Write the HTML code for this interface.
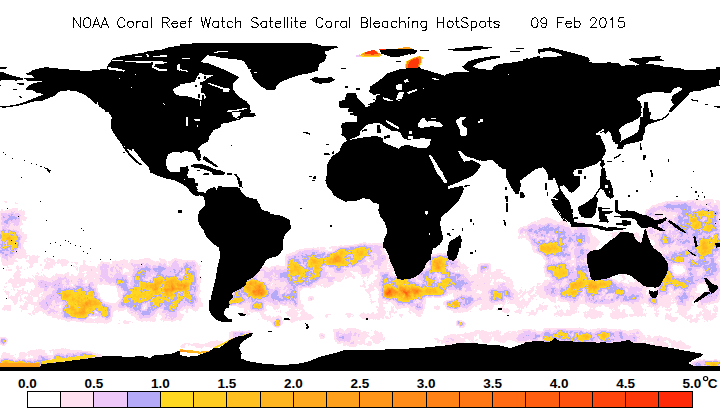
<!DOCTYPE html>
<html><head><meta charset="utf-8"><title>NOAA Coral Reef Watch HotSpots</title>
<style>
html,body{margin:0;padding:0;background:#fff;}
body{width:720px;height:411px;overflow:hidden;font-family:"Liberation Sans",sans-serif;}
svg{display:block}
.t text{font-family:"Liberation Sans",sans-serif;font-size:14px;fill:#000;stroke:#fff;stroke-width:0.45px}
.l text{font-family:"Liberation Sans",sans-serif;font-size:13.5px;font-weight:bold;fill:#000}
</style></head><body>
<svg width="720" height="411" viewBox="0 0 720 411">
<rect width="720" height="411" fill="#fff"/>
<defs><clipPath id="mapclip"><rect x="0" y="43" width="720" height="328"/></clipPath></defs>
<g clip-path="url(#mapclip)">
<defs><filter id="hs" filterUnits="userSpaceOnUse" x="0" y="0" width="720" height="411" color-interpolation-filters="sRGB">
<feGaussianBlur in="SourceGraphic" stdDeviation="2.2" result="b"/>
<feTurbulence type="fractalNoise" baseFrequency="0.09" numOctaves="4" seed="5" result="t"/>
<feColorMatrix in="t" type="matrix" values="1 0 0 0 0 1 0 0 0 0 1 0 0 0 0 0 0 0 0 1" result="n1"/>
<feTurbulence type="fractalNoise" baseFrequency="0.35" numOctaves="2" seed="12" result="t2"/>
<feColorMatrix in="t2" type="matrix" values="1 0 0 0 0 1 0 0 0 0 1 0 0 0 0 0 0 0 0 1" result="n2"/>
<feComposite in="n1" in2="n2" operator="arithmetic" k1="0" k2="0.75" k3="0.25" k4="0" result="n"/>
<feComposite in="b" in2="n" operator="arithmetic" k1="2.7" k2="-0.35" k3="0" k4="0" result="m"/>
<feComponentTransfer in="m">
<feFuncR type="discrete" tableValues="1.000 1.000 0.937 0.706 1.000 1.000 1.000 1.000 1.000 1.000 1.000 1.000 1.000 1.000 1.000 1.000 1.000 1.000 1.000 1.000"/>
<feFuncG type="discrete" tableValues="1.000 0.882 0.784 0.667 0.847 0.800 0.753 0.710 0.667 0.627 0.588 0.549 0.510 0.463 0.416 0.369 0.322 0.267 0.220 0.165"/>
<feFuncB type="discrete" tableValues="1.000 0.941 0.980 0.973 0.133 0.133 0.125 0.125 0.118 0.110 0.102 0.094 0.086 0.078 0.071 0.063 0.055 0.047 0.039 0.031"/>
</feComponentTransfer>
</filter></defs><g filter="url(#hs)"><rect x="0" y="0" width="720" height="411" fill="#000"/><path d="M0.0,200.0 18.0,198.0 28.0,215.0 30.0,250.0 60.0,258.0 110.0,260.0 160.0,256.0 205.0,262.0 212.0,280.0 205.0,310.0 180.0,322.0 120.0,326.0 60.0,322.0 20.0,318.0 0.0,310.0Z" fill="rgb(12,12,12)"/><path d="M236.0,300.0 250.0,286.0 275.0,272.0 300.0,258.0 340.0,247.0 385.0,250.0 398.0,262.0 400.0,280.0 430.0,262.0 445.0,256.0 470.0,266.0 500.0,262.0 515.0,240.0 520.0,228.0 540.0,215.0 580.0,218.0 600.0,238.0 610.0,228.0 640.0,230.0 660.0,212.0 690.0,200.0 720.0,198.0 720.0,322.0 690.0,326.0 640.0,318.0 600.0,322.0 540.0,318.0 480.0,312.0 430.0,318.0 380.0,322.0 330.0,318.0 290.0,325.0 255.0,322.0 238.0,315.0Z" fill="rgb(12,12,12)"/><path d="M0.0,352.0 60.0,348.0 100.0,352.0 110.0,362.0 60.0,368.0 0.0,368.0Z" fill="rgb(16,16,16)"/><path d="M430.0,338.0 470.0,330.0 540.0,328.0 620.0,330.0 680.0,338.0 700.0,350.0 640.0,346.0 560.0,342.0 480.0,344.0 440.0,346.0Z" fill="rgb(16,16,16)"/><path d="M330.0,328.0 380.0,326.0 390.0,345.0 340.0,348.0Z" fill="rgb(16,16,16)"/><path d="M470.0,265.0 500.0,267.5 515.0,280.0 515.0,302.5 472.5,302.5Z" fill="rgb(16,16,16)"/><path d="M37.5,280.0 62.5,275.0 82.5,277.5 100.0,282.5 112.5,295.0 112.5,315.0 95.0,321.2 70.0,320.0 47.5,315.0 37.5,302.5Z" fill="rgb(26,26,26)"/><path d="M87.5,267.5 112.5,262.5 140.0,260.0 180.0,260.0 180.0,320.0 155.0,320.0 130.0,315.0 117.5,305.0 117.5,290.0 100.0,280.0Z" fill="rgb(26,26,26)"/><path d="M0.0,240.0 20.0,240.0 22.5,255.0 10.0,260.0 0.0,260.0Z" fill="rgb(26,26,26)"/><path d="M180.0,262.5 195.0,261.2 198.8,280.0 197.5,305.0 180.0,306.2Z" fill="rgb(26,26,26)"/><path d="M255.0,267.5 285.0,265.0 287.5,290.0 285.0,305.0 255.0,305.0 245.0,300.0Z" fill="rgb(26,26,26)"/><path d="M285.0,255.0 305.0,248.8 335.0,246.2 360.0,245.0 360.0,270.0 330.0,275.0 310.0,287.5 287.5,287.5Z" fill="rgb(26,26,26)"/><path d="M335.0,332.5 360.0,331.2 360.0,342.8 335.0,342.8Z" fill="rgb(26,26,26)"/><path d="M360.0,242.5 382.5,242.5 386.2,255.0 385.0,272.5 360.0,273.8Z" fill="rgb(26,26,26)"/><path d="M380.0,270.0 410.0,277.5 430.0,255.0 450.0,252.5 465.0,265.0 472.5,290.0 470.0,310.0 435.0,311.2 397.5,305.0 380.0,297.5Z" fill="rgb(26,26,26)"/><path d="M515.0,331.2 540.0,331.2 540.0,340.0 515.0,340.0Z" fill="rgb(26,26,26)"/><path d="M530.0,240.0 540.0,240.0 540.0,250.0 530.0,250.0Z" fill="rgb(26,26,26)"/><path d="M540.0,240.0 585.0,240.0 590.0,265.0 615.0,282.5 645.0,285.0 645.0,302.5 610.0,305.0 565.0,302.5 540.0,290.0Z" fill="rgb(26,26,26)"/><path d="M660.0,240.0 720.0,240.0 720.0,305.0 680.0,305.5 660.0,297.5Z" fill="rgb(26,26,26)"/><path d="M540.0,328.8 640.0,328.8 640.0,340.0 540.0,340.0Z" fill="rgb(26,26,26)"/><path d="M645.0,210.0 665.0,201.2 720.0,200.0 720.0,282.8 675.0,282.8 670.0,262.5 660.0,245.0 647.5,230.0Z" fill="rgb(26,26,26)"/><path d="M540.0,225.0 590.0,225.0 591.2,255.0 587.5,282.8 540.0,282.8Z" fill="rgb(26,26,26)"/><path d="M518.0,228.0 540.0,222.0 570.0,228.0 578.0,245.0 565.0,258.0 535.0,258.0 518.0,248.0Z" fill="rgb(26,26,26)"/><path d="M0.0,210.0 20.0,210.0 22.0,258.0 0.0,258.0Z" fill="rgb(26,26,26)"/><path d="M520.0,330.0 640.0,330.0 640.0,343.0 520.0,343.0Z" fill="rgb(26,26,26)"/><path d="M180.0,343.7 205.0,343.0 221.7,338.7 230.0,337.0 232.0,339.7 213.3,347.7 180.0,348.7Z" fill="rgb(26,26,26)"/><path d="M662.5,242.5 720.0,242.5 720.0,300.0 682.5,301.2 663.8,293.8Z" fill="rgb(30,30,30)"/><path d="M650.0,212.5 667.5,205.0 720.0,203.8 720.0,280.0 680.0,280.0 675.0,262.5 665.0,245.0 652.5,230.0Z" fill="rgb(30,30,30)"/><path d="M55.0,287.5 82.5,282.5 102.5,290.0 107.5,312.5 90.0,318.8 65.0,317.5 52.5,307.5Z" fill="rgb(35,35,35)"/><path d="M117.5,275.0 140.0,267.5 180.0,267.5 180.0,312.5 150.0,315.0 125.0,307.5 117.5,295.0Z" fill="rgb(35,35,35)"/><path d="M180.0,265.0 193.8,265.0 195.5,302.5 180.0,302.5Z" fill="rgb(35,35,35)"/><path d="M286.2,257.5 305.0,251.2 335.0,248.8 360.0,247.0 360.0,266.2 330.0,272.5 305.0,283.8 287.5,282.5Z" fill="rgb(35,35,35)"/><path d="M383.8,275.0 410.0,280.0 430.0,260.0 447.5,257.5 460.0,267.5 465.0,290.0 460.0,305.0 422.5,306.2 390.0,300.0Z" fill="rgb(35,35,35)"/><path d="M545.0,245.0 580.0,245.0 587.5,270.0 612.5,285.0 637.5,287.5 637.5,300.0 610.0,301.2 565.0,298.8 545.0,285.0Z" fill="rgb(35,35,35)"/><path d="M670.0,210.0 720.0,207.5 720.0,262.5 690.0,262.5 680.0,242.5Z" fill="rgb(35,35,35)"/><path d="M540.0,230.0 585.0,230.0 586.2,255.0 583.8,280.0 540.0,280.0Z" fill="rgb(35,35,35)"/><path d="M524.0,232.0 545.0,228.0 568.0,234.0 570.0,250.0 550.0,255.0 528.0,252.0Z" fill="rgb(35,35,35)"/><path d="M0.0,220.0 17.0,220.0 18.0,255.0 0.0,255.0Z" fill="rgb(35,35,35)"/><path d="M300.0,290.0 360.0,288.0 372.0,310.0 310.0,314.0Z" fill="rgb(0,0,0)"/><path d="M425.0,290.0 455.0,295.0 450.0,315.0 425.0,315.0Z" fill="rgb(0,0,0)"/><path d="M95.0,286.2 117.5,285.0 120.0,301.2 102.5,302.5Z" fill="rgb(0,0,0)"/><path d="M132.5,289.2 150.0,288.8 150.0,293.5 132.5,293.5Z" fill="rgb(0,0,0)"/><path d="M670.6,265.0 683.0,264.1 684.6,275.7 671.4,277.4Z" fill="rgb(0,0,0)"/><path d="M696.2,283.2 707.8,282.4 707.8,293.9 696.2,293.9Z" fill="rgb(0,0,0)"/><path d="M481.7,240.0 530.0,240.0 543.3,256.7 546.7,281.7 515.0,283.3 506.7,270.0 490.0,260.0 465.0,258.3 460.0,250.0Z" fill="rgb(0,0,0)"/><path d="M275.0,288.8 297.5,288.8 297.5,305.0 275.0,305.0Z" fill="rgb(42,42,42)"/><path d="M675.0,275.0 690.0,275.0 690.0,290.0 675.0,290.0Z" fill="rgb(42,42,42)"/><path d="M660.0,238.8 670.0,238.8 670.0,245.0 660.0,245.0Z" fill="rgb(42,42,42)"/><path d="M675.0,220.0 682.5,220.0 682.5,225.0 675.0,225.0Z" fill="rgb(42,42,42)"/><path d="M480.0,265.0 490.0,265.0 490.0,272.5 480.0,272.5Z" fill="rgb(48,48,48)"/><path d="M490.0,290.0 510.0,290.0 510.0,301.2 490.0,301.2Z" fill="rgb(48,48,48)"/><path d="M550.0,255.0 567.5,255.0 568.0,277.5 550.0,277.5Z" fill="rgb(48,48,48)"/><path d="M540.0,245.0 555.0,245.0 555.0,252.5 540.0,252.5Z" fill="rgb(48,48,48)"/><path d="M685.0,250.0 700.0,250.0 700.5,265.0 685.0,265.0Z" fill="rgb(48,48,48)"/><path d="M700.0,265.0 715.0,265.0 715.0,272.5 700.0,272.5Z" fill="rgb(48,48,48)"/><path d="M690.0,247.5 700.0,247.5 700.0,260.0 690.0,260.0Z" fill="rgb(48,48,48)"/><path d="M675.0,252.5 685.0,252.5 685.0,262.5 675.0,262.5Z" fill="rgb(48,48,48)"/><path d="M540.0,236.2 547.5,236.2 547.5,245.0 540.0,245.0Z" fill="rgb(48,48,48)"/><path d="M545.0,246.2 555.0,246.2 555.0,252.5 545.0,252.5Z" fill="rgb(48,48,48)"/><path d="M550.0,230.0 557.5,230.0 557.5,235.0 550.0,235.0Z" fill="rgb(48,48,48)"/><path d="M555.0,265.0 565.0,265.0 565.0,271.2 555.0,271.2Z" fill="rgb(48,48,48)"/><path d="M577.5,272.5 585.0,272.5 585.0,278.8 577.5,278.8Z" fill="rgb(48,48,48)"/><path d="M562.5,273.8 570.0,273.8 570.0,277.5 562.5,277.5Z" fill="rgb(48,48,48)"/><path d="M60.0,292.5 75.0,288.8 90.0,290.0 100.0,297.5 100.0,312.5 110.0,311.2 110.0,318.8 100.0,318.8 87.5,317.5 70.0,316.2 61.2,310.0Z" fill="rgb(57,57,57)"/><path d="M122.5,293.8 135.0,287.5 142.5,280.0 160.0,277.5 180.0,278.8 180.0,300.0 165.0,302.5 150.0,302.5 135.0,302.5 123.8,300.0Z" fill="rgb(57,57,57)"/><path d="M0.0,242.0 10.0,241.2 11.2,251.2 0.0,252.5Z" fill="rgb(57,57,57)"/><path d="M180.0,267.5 191.2,267.0 192.5,300.0 180.0,300.0Z" fill="rgb(57,57,57)"/><path d="M247.5,280.0 255.0,277.5 265.0,281.2 266.2,296.2 255.0,298.8 245.0,301.2 230.0,305.0 226.2,302.5 237.5,290.0Z" fill="rgb(57,57,57)"/><path d="M287.5,261.2 297.5,257.5 312.5,256.2 320.0,258.8 320.0,277.5 307.5,286.2 292.5,285.0 286.2,277.5Z" fill="rgb(57,57,57)"/><path d="M320.0,253.8 340.0,251.2 355.0,248.8 360.0,248.8 360.0,258.8 352.5,265.0 330.0,265.0 320.5,262.5Z" fill="rgb(57,57,57)"/><path d="M327.5,276.2 332.5,276.2 332.5,281.2 327.5,281.2Z" fill="rgb(57,57,57)"/><path d="M285.0,296.2 291.2,296.2 291.2,300.0 285.0,300.0Z" fill="rgb(57,57,57)"/><path d="M308.8,297.5 313.8,297.5 313.8,301.2 308.8,301.2Z" fill="rgb(57,57,57)"/><path d="M318.8,334.5 325.0,334.5 325.0,337.0 318.8,337.0Z" fill="rgb(57,57,57)"/><path d="M230.0,333.0 251.2,331.2 251.2,334.5 230.0,338.0Z" fill="rgb(57,57,57)"/><path d="M360.0,247.5 372.5,247.5 373.0,258.8 360.0,259.5Z" fill="rgb(57,57,57)"/><path d="M385.0,277.5 410.0,281.2 411.2,300.0 397.5,300.0 385.0,296.2Z" fill="rgb(57,57,57)"/><path d="M422.5,280.0 445.0,280.0 445.5,295.5 422.5,295.5Z" fill="rgb(57,57,57)"/><path d="M430.0,257.5 447.5,257.5 448.0,273.0 430.0,273.0Z" fill="rgb(57,57,57)"/><path d="M450.0,272.5 457.5,272.5 457.5,276.5 450.0,276.5Z" fill="rgb(57,57,57)"/><path d="M460.0,296.2 472.5,296.2 472.5,300.0 460.0,300.0Z" fill="rgb(57,57,57)"/><path d="M477.5,296.2 482.5,296.2 482.5,300.0 477.5,300.0Z" fill="rgb(57,57,57)"/><path d="M500.0,283.8 506.2,283.8 506.2,287.5 500.0,287.5Z" fill="rgb(57,57,57)"/><path d="M495.0,297.5 505.0,297.5 505.0,301.2 495.0,301.2Z" fill="rgb(57,57,57)"/><path d="M417.5,303.8 422.5,303.8 422.5,308.8 417.5,308.8Z" fill="rgb(57,57,57)"/><path d="M435.0,306.2 440.0,306.2 440.0,308.8 435.0,308.8Z" fill="rgb(57,57,57)"/><path d="M532.5,335.0 540.0,335.0 540.0,338.8 532.5,338.8Z" fill="rgb(57,57,57)"/><path d="M567.5,280.0 590.0,280.0 610.0,281.2 610.5,295.5 590.0,297.0 567.5,295.5Z" fill="rgb(57,57,57)"/><path d="M615.0,288.8 627.5,288.8 627.5,295.0 615.0,295.0Z" fill="rgb(57,57,57)"/><path d="M627.5,296.2 637.5,296.2 637.5,300.0 627.5,300.0Z" fill="rgb(57,57,57)"/><path d="M662.5,270.0 672.5,270.0 673.0,284.0 662.5,284.0Z" fill="rgb(57,57,57)"/><path d="M700.0,240.0 720.0,240.0 720.0,255.0 700.0,255.0Z" fill="rgb(57,57,57)"/><path d="M660.0,287.5 670.0,287.5 670.0,293.8 660.0,293.8Z" fill="rgb(57,57,57)"/><path d="M555.0,332.5 622.5,332.5 622.5,338.8 555.0,338.8Z" fill="rgb(57,57,57)"/><path d="M690.0,208.8 712.5,208.0 715.0,217.5 712.5,230.0 700.0,231.2 690.0,227.5 686.2,217.5Z" fill="rgb(57,57,57)"/><path d="M710.0,235.0 720.0,235.0 720.0,247.5 710.0,247.5Z" fill="rgb(57,57,57)"/><path d="M533.0,237.0 560.0,237.0 560.0,251.0 533.0,251.0Z" fill="rgb(57,57,57)"/><path d="M0.0,230.0 15.0,230.0 15.0,252.0 0.0,252.0Z" fill="rgb(57,57,57)"/><path d="M40.0,358.0 95.0,353.0 96.0,358.0 42.0,364.0Z" fill="rgb(57,57,57)"/><path d="M535.0,334.0 620.0,334.0 620.0,341.0 535.0,341.0Z" fill="rgb(57,57,57)"/><path d="M0.0,338.0 6.0,338.0 6.0,344.0 0.0,344.0Z" fill="rgb(57,57,57)"/><path d="M67.5,295.5 85.0,293.8 97.0,298.8 96.2,312.5 82.5,315.0 68.8,312.5Z" fill="rgb(74,74,74)"/><path d="M143.8,281.2 162.5,279.5 180.0,281.2 180.0,297.0 162.5,298.0 147.5,295.0Z" fill="rgb(74,74,74)"/><path d="M180.0,272.5 188.8,272.0 189.5,297.5 180.0,297.5Z" fill="rgb(74,74,74)"/><path d="M325.0,254.5 345.0,253.0 351.2,257.5 347.5,263.0 327.5,263.0Z" fill="rgb(74,74,74)"/><path d="M252.5,302.5 262.5,302.5 262.5,308.8 252.5,308.8Z" fill="rgb(74,74,74)"/><path d="M425.0,282.5 442.5,282.5 442.5,293.8 425.0,293.8Z" fill="rgb(74,74,74)"/><path d="M432.0,260.0 445.0,260.0 445.0,271.2 432.5,271.2Z" fill="rgb(74,74,74)"/><path d="M572.5,283.8 597.5,283.8 598.0,292.5 572.5,292.5Z" fill="rgb(74,74,74)"/><path d="M663.8,272.5 671.2,272.5 671.2,282.5 663.8,282.5Z" fill="rgb(74,74,74)"/><path d="M650.0,297.5 657.5,297.5 657.5,305.0 650.0,305.0Z" fill="rgb(74,74,74)"/><path d="M712.5,236.2 720.0,236.2 720.0,246.2 712.5,246.2Z" fill="rgb(74,74,74)"/><path d="M0.0,234.0 10.0,234.0 10.0,248.0 0.0,248.0Z" fill="rgb(74,74,74)"/><path d="M150.0,283.8 180.0,283.8 180.0,293.8 152.5,293.0Z" fill="rgb(97,97,97)"/><path d="M180.0,282.5 187.0,282.5 187.5,296.2 180.0,296.2Z" fill="rgb(97,97,97)"/><path d="M247.5,282.0 263.8,282.5 265.0,295.5 253.8,297.5 247.5,293.8Z" fill="rgb(97,97,97)"/><path d="M0.0,362.0 40.0,361.0 42.0,367.0 0.0,367.0Z" fill="rgb(97,97,97)"/><path d="M688.0,362.0 720.0,362.0 720.0,366.0 700.0,366.0Z" fill="rgb(97,97,97)"/><path d="M248.8,283.0 255.0,283.0 255.0,290.0 249.5,290.0Z" fill="rgb(128,128,128)"/><path d="M275.0,322.5 278.8,322.5 278.8,325.0 275.0,325.0Z" fill="rgb(128,128,128)"/><path d="M385.0,287.0 420.0,288.8 420.0,298.8 386.2,296.2Z" fill="rgb(128,128,128)"/><path d="M445.0,302.5 457.5,302.5 457.5,306.5 445.0,306.5Z" fill="rgb(128,128,128)"/><path d="M385.0,288.8 393.8,288.8 393.8,294.5 385.0,294.5Z" fill="rgb(178,178,178)"/><path d="M402.0,290.8 410.5,290.8 410.5,297.0 402.0,297.0Z" fill="rgb(178,178,178)"/><path d="M458.8,323.2 463.0,323.2 463.0,326.5 458.8,326.5Z" fill="rgb(178,178,178)"/><path d="M458.0,322.0 463.0,322.0 463.0,326.0 458.0,326.0Z" fill="rgb(178,178,178)"/><path d="M276.0,320.0 279.0,320.0 279.0,324.0 276.0,324.0Z" fill="rgb(178,178,178)"/></g><g shape-rendering="crispEdges"><path d="M355.6,55.5 360.0,54.2 362.5,56.5 356.2,56.5Z" fill="#EFC8FA"/><path d="M358.8,55.5 365.0,52.1 373.8,49.6 379.4,53.4 382.8,56.1 375.0,57.2 362.5,56.8Z" fill="#FFD822"/><path d="M361.2,54.6 365.6,51.9 373.8,49.6 379.4,53.4 381.2,55.2 375.0,56.2 365.0,55.9Z" fill="#FF961A"/><path d="M364.4,53.0 368.8,50.9 373.8,49.8 377.8,52.8 378.1,54.2 372.5,54.6 366.2,54.2Z" fill="#FF380A"/><path d="M379.4,49.0 391.2,49.0 391.2,50.2 379.4,50.2Z" fill="#FF2A08"/><path d="M398.1,47.8 408.8,47.2 411.9,48.5 411.9,49.2 398.1,49.2Z" fill="#FFA01C"/><path d="M404.8,68.0 406.0,61.5 412.5,58.1 420.0,55.6 422.8,57.5 421.5,62.8 419.0,68.0Z" fill="#FFD822"/><path d="M405.6,68.0 406.9,61.8 412.5,58.8 419.4,56.2 421.5,58.0 420.6,62.8 418.5,68.0Z" fill="#FF8216"/><path d="M408.1,68.0 408.8,62.1 412.5,59.6 417.5,58.0 419.0,60.2 418.5,64.6 417.5,68.0Z" fill="#FF380A"/><path d="M180.0,349.3 190.0,350.0 200.0,351.7 208.3,350.5 208.7,352.0 200.0,353.7 190.0,352.7 180.0,352.0Z" fill="#FFB520"/><path d="M180.0,350.0 188.3,350.7 188.3,352.0 180.0,351.7Z" fill="#FF961A"/><path d="M213.3,347.3 223.3,343.0 233.3,338.0 246.7,333.7 253.0,332.7 253.0,334.0 236.7,337.7 225.0,344.3 215.3,348.7Z" fill="#FFD822"/><path d="M0.0,362.5 15.0,363.0 30.0,363.5 40.0,363.0 40.5,366.5 0.0,366.8Z" fill="#FFA01C"/><path d="M41.2,361.0 62.5,358.0 82.5,355.5 95.0,354.5 95.0,357.0 82.5,359.0 62.5,361.5 42.0,364.0Z" fill="#FFD822"/></g>
<g shape-rendering="crispEdges">
<path d="M0.0,67.2 6.5,67.2 7.0,68.2 6.0,68.8 0.0,69.0ZM0.0,71.8 4.0,72.6 10.0,74.8 16.0,76.6 21.5,78.0 23.8,79.0 22.5,79.7 18.0,79.6 16.5,80.8 12.0,80.0 8.0,79.5 4.0,79.8 0.0,80.8ZM16.5,82.8 24.0,82.8 24.5,84.5 19.0,84.5 16.5,83.6ZM13.0,89.0 17.0,89.0 17.0,89.8 13.0,89.8ZM19.0,96.0 21.0,96.2 22.2,98.0 20.0,97.6ZM0.0,85.0 0.8,85.0 0.8,85.8 0.0,85.8ZM24.0,77.8 34.5,77.8 42.0,78.0 42.0,81.4 26.2,81.4 27.8,80.0 24.5,79.2ZM26.2,73.0 30.0,72.2 33.0,70.0 40.0,68.2 46.0,67.2 49.0,67.2 50.0,68.0 56.0,68.2 66.0,69.5 72.0,70.0 72.0,89.0 65.0,90.0 59.0,91.8 56.0,94.5 50.0,97.5 44.0,100.0 42.0,101.0 31.0,101.0 33.0,100.0 40.0,96.5 44.0,94.2 36.0,92.5 35.0,91.0 30.0,90.0 25.5,89.7 28.0,86.5 33.0,83.2 38.0,82.4 42.0,82.4 42.0,78.0 34.5,77.8 32.2,75.6 27.0,74.6ZM60.0,69.0 66.7,69.3 76.7,70.2 86.7,71.2 96.7,69.8 106.7,69.0 107.5,65.7 110.0,62.3 113.3,58.2 123.3,55.7 133.3,54.3 145.0,52.3 148.3,50.7 160.0,50.3 168.3,47.3 180.0,45.7 180.0,112.0 105.8,112.0 103.3,109.0 99.2,106.5 97.5,102.3 95.8,104.8 93.3,101.5 85.0,94.8 76.7,91.5 68.3,90.3 60.0,91.5ZM180.0,43.8 191.7,43.8 192.5,43.0 236.7,43.0 236.7,45.3 243.3,60.7 235.0,59.0 223.3,58.2 213.3,56.0 206.7,55.3 200.8,62.3 208.3,63.2 218.3,67.3 226.7,70.7 235.0,74.8 239.2,77.3 236.7,79.8 233.3,83.2 232.5,88.2 235.0,92.3 240.0,97.3 246.7,101.5 250.0,105.7 250.8,112.0 180.0,112.0ZM233.3,43.0 300.0,43.0 300.0,74.8 290.0,78.2 281.7,81.5 276.7,85.7 275.0,89.8 266.7,89.8 260.0,85.7 253.3,79.0 251.7,74.0 246.7,65.7 243.3,60.7 240.0,60.3ZM300.0,43.0 311.7,43.0 312.5,44.0 317.5,44.2 322.0,46.0 335.8,46.1 338.7,47.2 335.0,48.3 330.8,49.7 328.0,50.8 325.0,51.3 324.7,53.7 326.7,55.7 325.0,60.7 319.2,64.0 317.5,70.7 310.0,73.2 300.0,74.8ZM310.0,79.3 315.0,77.3 323.3,77.8 331.7,77.3 335.0,79.8 330.0,82.7 320.0,83.7 314.2,82.3ZM340.8,67.8 345.8,67.8 345.8,68.7 340.8,68.7ZM379.2,50.7 386.7,49.3 400.0,49.0 410.0,48.7 417.5,50.7 415.0,53.2 406.7,54.8 400.0,56.5 390.0,56.5 383.3,54.0ZM420.0,112.0 363.3,112.0 366.7,107.3 373.3,99.0 383.3,101.5 390.0,101.5 390.0,99.0 383.3,97.3 380.0,94.0 373.3,94.8 369.2,91.5 370.0,86.5 376.7,82.3 383.3,77.3 386.7,73.7 400.0,69.0 420.0,67.3ZM345.8,94.0 350.0,92.7 355.8,94.0 355.0,99.0 358.3,102.3 361.7,106.5 364.2,110.7 363.3,112.0 348.3,112.0 348.3,109.8 350.0,104.0 346.7,99.0ZM339.2,102.3 345.0,101.2 348.3,104.0 347.5,108.2 340.0,108.2ZM345.0,85.7 348.3,85.7 348.3,87.7 345.0,87.7ZM355.8,88.2 360.0,88.2 360.0,90.3 355.8,90.3ZM420.0,68.2 428.3,70.7 436.7,73.2 445.0,75.7 446.7,74.0 456.7,71.5 470.0,71.5 480.0,70.7 491.7,71.5 493.3,67.3 498.3,64.0 506.7,63.2 513.3,62.3 523.3,60.7 533.3,57.3 540.0,55.7 540.0,112.0 420.0,112.0ZM462.5,66.5 468.3,61.5 476.7,58.7 490.0,56.5 500.0,55.7 499.7,57.7 486.7,60.3 477.5,63.2 473.0,66.5 478.3,68.7 493.3,70.3 491.7,72.0 470.0,72.0 464.2,69.3ZM447.5,49.3 461.7,47.7 478.3,46.0 493.3,47.7 483.3,49.3 470.0,50.7 453.3,50.7ZM420.0,49.8 428.3,49.8 428.3,50.7 420.0,50.7ZM510.0,50.7 520.0,50.7 520.0,52.0 510.0,52.0ZM515.8,47.7 524.2,47.7 524.2,48.5 515.8,48.5ZM522.5,59.0 528.3,58.2 529.2,60.2 523.3,61.0ZM537.5,49.0 540.0,48.7 540.0,54.0 538.0,53.2ZM540.0,49.0 550.0,47.3 556.7,49.0 576.7,54.0 588.3,57.3 590.0,60.7 588.3,62.3 606.7,63.2 618.3,63.2 621.7,66.5 626.7,64.8 636.7,65.7 640.0,63.7 650.0,64.3 660.0,64.8 660.0,91.5 653.3,92.3 643.3,94.0 635.8,99.0 640.0,101.5 641.7,106.5 640.8,112.0 540.0,112.0ZM629.2,58.7 640.0,57.7 655.0,56.5 660.0,55.7 660.0,60.3 650.0,60.7 640.0,61.5 638.3,64.0 630.8,60.7ZM600.0,64.0 608.3,62.3 618.3,63.2 620.8,67.0 638.3,65.3 650.0,64.8 663.3,66.5 680.0,68.2 686.7,70.3 700.0,69.8 715.0,69.0 720.0,68.7 720.0,79.8 718.7,81.0 718.7,84.8 720.0,85.7 710.0,87.7 700.0,90.7 693.3,91.5 690.0,92.3 686.7,97.3 681.7,102.3 676.7,107.3 671.7,111.5 668.7,112.0 670.0,108.7 673.7,104.3 671.2,100.7 672.0,96.0 678.3,92.0 683.3,89.0 679.2,87.0 673.3,88.7 670.8,92.7 656.7,92.3 645.0,92.7 640.0,95.7 635.0,99.0 640.0,101.5 641.7,106.5 640.8,112.0 600.0,112.0ZM629.2,59.0 641.7,57.7 655.0,58.2 664.2,59.8 663.3,61.0 650.0,60.7 648.3,62.7 640.0,65.3 638.3,62.0 630.0,60.7ZM655.0,56.0 660.8,56.0 660.8,57.3 655.0,57.3ZM715.8,67.3 720.0,67.0 720.0,69.0 715.8,69.0ZM644.7,101.5 647.5,102.3 649.2,112.0 643.0,112.0 643.7,106.5ZM690.8,99.0 697.5,100.3 697.5,101.7 690.8,100.3ZM705.0,104.0 708.3,104.3 708.3,105.3 705.0,105.0ZM714.2,106.0 720.0,106.5 720.0,107.7 714.2,107.3ZM180.0,112.0 180.0,180.0 173.3,180.0 166.7,178.7 156.7,175.3 150.0,171.2 148.3,166.2 143.3,162.0 138.3,155.3 133.3,149.5 122.0,145.3 123.3,147.8 126.7,152.0 129.2,155.7 133.3,160.3 140.0,165.0 141.7,164.5 135.8,159.5 131.7,155.3 128.3,151.2 125.8,146.2 121.7,144.5 117.5,138.7 113.3,132.8 110.8,127.0 111.7,117.0 108.3,112.0ZM122.0,145.0 126.7,146.2 133.3,149.5 131.7,151.2ZM122.5,151.7 125.0,151.7 125.0,152.8 122.5,152.8ZM150.0,112.0 231.7,112.0 233.3,117.0 240.0,119.5 233.3,121.2 228.3,122.8 221.7,123.7 220.0,127.8 213.3,130.3 209.2,137.0 208.3,141.2 201.7,144.5 198.3,147.8 197.5,152.0 200.0,157.0 200.8,160.3 198.3,161.2 195.8,157.0 194.2,152.8 190.0,152.0 185.8,150.7 181.7,152.8 175.0,151.7 169.2,153.7 166.7,157.8 165.8,163.7 167.5,169.5 171.7,172.3 178.3,171.2 180.8,167.8 185.8,167.0 187.5,169.5 185.8,174.5 184.2,180.0 173.3,180.0 166.7,178.7 156.7,175.3 150.0,172.3ZM240.8,112.0 255.0,112.8 255.8,116.2 250.0,117.3 243.3,117.0 240.0,119.5 236.7,117.0 240.0,115.3ZM190.8,165.0 200.0,164.0 206.7,166.2 216.7,170.3 223.3,172.8 216.7,172.3 206.7,169.5 198.3,167.8 191.7,167.0ZM211.7,172.3 220.0,171.2 224.2,173.3 223.3,175.3 216.7,175.0 212.5,174.0ZM202.5,157.0 207.5,161.2 216.7,166.2 218.3,167.8 208.3,162.8 203.3,159.5ZM226.7,173.3 231.7,173.3 231.7,174.5 226.7,174.5ZM234.2,174.0 236.7,174.0 236.7,175.3 234.2,175.3ZM236.7,176.2 238.3,176.2 238.7,180.0 237.0,180.0ZM203.3,173.7 208.3,173.7 208.3,175.0 203.3,175.0ZM196.7,170.3 200.0,170.3 200.0,171.2 196.7,171.2ZM230.8,145.0 232.0,145.0 232.0,146.0 230.8,146.0ZM341.7,122.8 350.0,122.0 356.7,122.3 360.8,123.7 363.3,128.7 360.8,134.5 356.7,137.0 351.7,138.7 347.5,140.7 344.2,137.0 341.3,134.5 342.5,130.3 341.3,127.0ZM348.3,140.3 351.7,139.5 356.7,138.7 363.3,137.0 371.7,135.7 381.7,135.3 383.3,139.5 383.0,143.7 390.0,144.0 390.0,180.0 325.8,180.0 326.7,175.3 327.5,170.3 326.7,165.3 329.2,160.3 333.3,155.3 339.2,152.0 340.8,147.0 343.3,142.8ZM303.3,132.3 306.7,132.0 310.8,133.7 310.0,134.7 305.8,133.3 303.3,133.3ZM325.8,144.2 329.2,144.2 329.2,145.3 325.8,145.3ZM324.2,152.8 330.0,153.7 330.0,155.3 324.2,155.0ZM331.7,151.7 334.2,151.2 334.2,153.7 332.0,154.0ZM309.2,176.2 313.3,176.7 315.8,176.2 315.8,178.7 313.7,179.5 313.3,177.5 309.2,177.0ZM360.0,100.0 480.0,100.0 480.0,168.0 360.0,168.0ZM480.0,112.0 600.0,112.0 600.0,160.3 596.7,162.0 588.3,166.2 581.7,169.5 575.8,168.7 572.5,172.8 575.0,177.0 578.3,180.0 550.0,180.0 548.3,176.2 545.8,170.3 543.3,167.0 535.0,169.5 525.0,177.0 521.7,180.0 506.7,180.0 505.8,169.5 501.7,168.7 496.7,163.7 492.5,160.3 480.0,160.3ZM540.0,112.0 641.7,112.0 640.0,117.0 633.3,121.2 625.0,124.5 620.8,127.8 617.0,131.2 618.7,137.0 619.7,141.7 618.0,143.0 613.3,142.3 611.7,137.0 610.8,132.8 608.3,131.2 605.3,133.7 603.7,131.5 597.5,134.5 600.3,135.7 602.0,140.3 604.5,145.3 606.0,150.3 604.3,155.3 601.0,160.3 596.7,163.7 590.0,166.2 583.3,167.8 577.5,168.7 573.3,171.2 572.5,174.5 575.0,177.8 574.2,180.0 550.8,180.0 547.5,173.7 544.2,167.8 540.0,166.2ZM600.8,159.5 604.2,160.3 604.7,164.5 602.5,167.8 600.3,165.3ZM600.8,168.7 605.0,167.8 605.8,172.8 606.7,176.2 605.0,180.0 600.0,180.0 601.3,175.3ZM577.5,170.3 581.7,170.3 581.7,173.7 577.5,173.7ZM583.7,176.2 585.8,176.2 585.8,178.7 583.7,178.7ZM642.5,112.8 650.0,112.8 648.3,117.8 655.0,120.0 662.5,118.3 668.3,113.3 669.7,114.0 663.3,119.5 655.0,122.0 648.3,124.5 645.0,127.0 645.3,132.0 643.0,136.2 643.0,140.3 638.3,141.7 633.3,142.8 628.3,144.0 624.7,145.0 622.5,148.7 620.8,149.5 619.2,145.3 618.3,142.8 623.3,141.2 628.3,139.5 633.3,137.8 638.0,137.0 640.0,132.0 640.8,125.3 642.5,120.3ZM613.3,157.8 616.7,156.2 620.8,153.3 621.3,154.5 617.5,157.3 614.2,158.7ZM606.7,160.8 611.7,160.8 611.7,161.7 606.7,161.7ZM621.7,160.8 624.2,160.8 624.2,161.7 621.7,161.7ZM640.0,142.8 641.3,142.8 641.7,150.3 640.5,150.3ZM642.5,155.3 645.8,155.0 645.3,160.3 643.0,160.0ZM667.5,159.2 668.8,159.2 668.8,162.0 667.5,162.0ZM650.0,169.5 652.0,169.5 653.0,177.0 651.3,177.0ZM692.5,170.7 694.2,170.7 694.2,172.0 692.5,172.0ZM174.2,180.0 195.0,180.0 194.2,185.0 195.3,188.7 198.7,191.7 203.3,192.0 207.5,194.2 203.3,196.7 200.0,195.3 195.8,196.2 190.8,193.0 188.3,188.7 183.3,184.5ZM205.0,193.3 208.3,189.2 215.0,186.7 216.7,190.0 218.3,185.8 228.3,187.5 236.7,186.7 240.0,188.3 241.7,192.5 246.7,196.7 255.0,199.2 260.0,205.0 261.7,210.0 270.0,212.0 270.0,248.0 220.0,248.0 216.7,245.8 210.8,241.7 205.8,235.8 203.3,230.0 200.0,225.8 197.5,220.0 198.3,215.0 200.0,210.0 205.0,205.0 204.2,196.7ZM195.0,182.5 198.3,182.5 198.3,185.8 195.0,185.8ZM237.5,180.8 241.7,181.3 242.5,187.5 239.2,187.0ZM177.5,209.7 181.7,209.7 181.7,213.3 177.5,213.3ZM240.0,192.5 246.7,197.5 256.7,199.2 260.8,209.2 271.7,214.2 281.7,215.8 290.0,220.0 290.8,228.3 285.0,235.0 282.5,241.7 281.7,248.0 240.0,248.0ZM360.0,180.0 360.0,200.3 353.3,200.8 345.0,201.7 338.3,198.3 333.3,193.3 327.5,186.7 325.0,180.0ZM300.3,207.5 301.7,207.5 301.7,208.8 300.3,208.8ZM330.3,225.3 331.7,225.3 331.7,226.7 330.3,226.7ZM311.7,180.0 315.0,180.0 315.0,180.8 311.7,180.8ZM240.8,183.0 242.0,183.0 242.0,184.7 240.8,184.7ZM330.0,180.0 450.0,180.0 450.0,208.3 445.0,212.5 440.8,218.3 440.0,225.0 441.7,231.7 443.3,238.3 440.0,244.2 435.0,248.0 383.3,248.0 383.3,243.3 385.8,237.5 387.5,230.0 384.2,221.7 380.0,215.8 378.3,210.0 379.2,204.2 373.3,202.5 370.0,199.2 363.3,198.3 353.3,200.8 345.0,201.7 338.3,198.3 333.3,195.0 330.0,188.3ZM446.7,233.0 450.0,233.0 450.0,235.0 446.7,235.0ZM420.0,180.0 436.7,180.0 436.7,187.7 447.8,187.7 453.3,187.8 457.5,186.7 462.8,185.8 464.0,188.7 462.5,193.3 459.2,200.0 453.3,206.7 446.7,212.5 441.7,216.7 440.0,221.7 440.8,228.3 441.7,236.7 442.5,241.7 436.7,245.8 433.3,248.0 420.0,248.0ZM520.0,180.0 520.8,185.0 520.0,190.0 518.3,194.2 515.3,193.7 510.8,186.7 507.5,180.0ZM520.0,192.0 523.0,191.7 525.0,195.8 523.3,198.3 520.3,198.0ZM505.0,186.7 507.0,186.7 507.5,190.0 505.3,190.0ZM505.3,195.8 507.5,195.8 507.5,201.7 505.7,201.7ZM505.8,203.3 507.8,203.3 507.8,211.7 506.2,211.7ZM503.3,220.0 505.3,220.0 506.0,225.8 504.2,225.3ZM448.3,248.0 449.2,244.2 455.8,239.2 460.0,234.2 461.7,240.0 460.8,248.0ZM446.7,233.3 450.0,234.2 450.8,235.8 447.5,235.3ZM451.7,228.8 454.2,228.8 454.2,229.7 451.7,229.7ZM461.7,228.3 463.0,228.3 463.0,230.8 461.7,230.8ZM470.0,219.2 471.7,219.2 472.0,221.7 470.3,221.7ZM472.7,223.0 473.7,223.0 473.7,225.0 472.7,225.0ZM548.1,177.2 550.0,177.5 549.8,180.0 548.2,179.8ZM545.2,182.9 546.9,182.9 546.5,189.8 545.0,189.5ZM546.9,192.2 548.1,192.2 548.5,196.0 547.2,196.0ZM555.0,176.0 563.1,176.0 563.8,185.4 560.0,186.6 561.2,192.2 565.0,196.0 568.8,200.4 570.6,204.8 571.2,208.8 570.0,208.8 568.1,202.9 565.0,198.5 560.6,194.8 558.8,188.5 556.2,182.2ZM563.1,176.0 580.0,176.0 580.0,181.0 579.4,186.6 575.6,190.4 571.9,192.9 569.4,192.0 566.9,188.5 563.8,185.4ZM550.6,198.5 555.0,199.1 560.0,203.5 565.0,209.1 569.4,214.1 572.8,218.5 573.8,222.9 571.2,224.1 568.1,221.0 563.8,216.0 558.8,210.4 554.4,204.8 551.2,201.0ZM552.5,202.9 553.5,202.6 558.8,211.0 558.0,211.5ZM560.0,213.5 561.0,213.2 566.9,221.6 566.0,222.0ZM570.2,209.1 572.5,209.1 572.8,212.9 570.8,213.2ZM574.0,217.0 577.5,217.0 577.8,219.2 574.4,219.2ZM571.2,224.1 577.5,223.5 590.0,225.4 598.8,226.2 605.0,227.0 571.2,227.0ZM578.1,207.2 582.5,204.8 587.5,201.6 592.5,197.9 595.0,196.0 598.1,197.9 597.5,201.6 595.6,205.4 596.2,210.4 595.0,214.8 591.2,217.9 586.2,218.5 581.2,216.6 578.8,212.2ZM594.0,196.0 601.5,185.0 602.5,185.8 595.2,197.0ZM600.0,176.0 605.0,176.0 607.5,181.0 611.9,186.0 613.1,192.2 613.8,197.2 610.0,199.1 607.5,194.8 604.4,189.8 602.5,184.8 601.2,179.8ZM598.8,212.5 603.8,211.2 610.0,212.2 613.1,210.4 613.5,211.6 610.0,213.5 605.0,213.5 603.8,216.0 608.1,219.1 608.5,222.5 606.2,222.2 603.1,218.5 601.2,222.2 599.4,221.6 600.0,217.2ZM615.0,204.8 616.9,204.8 617.2,212.2 615.4,212.2ZM620.0,211.0 627.5,210.4 630.0,212.2 630.0,218.5 625.0,217.2 621.2,214.8ZM613.8,216.2 620.0,216.0 627.5,217.0 627.5,218.0 620.0,217.5 613.8,217.2ZM628.1,194.8 630.0,194.8 630.0,196.6 628.1,196.6ZM616.7,210.0 620.0,210.8 630.0,211.7 633.3,210.8 640.0,214.2 648.3,215.8 655.0,220.0 660.8,219.2 665.8,217.5 666.7,220.0 661.7,223.3 657.5,224.2 658.3,228.3 663.3,230.0 660.0,230.8 653.3,228.3 648.3,225.8 643.3,226.7 638.3,223.3 635.8,218.3 630.0,217.5 625.0,215.8 620.8,215.0 617.5,213.3ZM669.2,220.0 678.3,225.8 685.0,231.7 683.3,232.5 675.0,227.5 668.3,221.7ZM603.3,248.0 608.3,241.7 615.0,237.5 620.0,232.5 625.0,231.7 633.3,233.3 635.0,238.3 640.0,244.2 642.5,240.0 644.2,230.0 645.8,228.3 647.5,235.0 650.0,241.7 653.3,248.0ZM600.0,180.0 610.0,180.0 613.3,190.0 612.5,198.3 606.7,196.7 603.3,190.0 600.0,188.3ZM615.3,200.0 618.0,200.0 618.3,213.3 615.8,213.3ZM600.0,210.8 608.3,210.8 608.3,212.5 600.0,212.5ZM603.3,215.8 606.7,215.8 606.7,221.7 603.7,221.7ZM621.7,220.0 630.8,220.8 630.8,224.2 621.7,223.0ZM600.0,228.3 605.0,228.3 605.0,230.0 600.0,230.0ZM623.3,222.5 626.7,222.5 626.7,225.8 623.3,225.8ZM649.7,180.8 651.0,180.8 651.0,182.2 649.7,182.2ZM636.3,190.3 637.7,190.3 637.7,191.7 636.3,191.7ZM628.7,195.3 630.0,195.3 630.0,196.7 628.7,196.7ZM676.3,195.8 677.7,195.8 677.7,197.2 676.3,197.2ZM690.8,187.0 692.2,187.0 692.2,188.3 690.8,188.3ZM695.3,191.3 696.7,191.3 696.7,192.7 695.3,192.7ZM698.0,195.3 699.3,195.3 699.3,196.7 698.0,196.7ZM702.0,192.0 703.3,192.0 703.3,193.3 702.0,193.3ZM703.7,196.3 705.0,196.3 705.0,197.7 703.7,197.7ZM696.3,198.7 697.7,198.7 697.7,200.0 696.3,200.0ZM706.0,203.7 707.3,203.7 707.3,205.0 706.0,205.0ZM708.0,209.7 709.3,209.7 709.3,211.0 708.0,211.0ZM714.7,213.0 716.0,213.0 716.0,214.3 714.7,214.3ZM714.7,223.0 716.0,223.0 716.0,224.3 714.7,224.3ZM718.7,218.7 720.0,218.7 720.0,220.0 718.7,220.0ZM693.3,236.7 695.3,236.3 697.5,246.7 695.3,246.7ZM715.0,243.3 720.0,243.0 720.0,246.7 715.8,246.7ZM587.5,254.3 590.8,251.0 600.0,249.3 604.2,245.2 610.0,241.0 615.0,237.7 619.2,238.5 620.0,236.0 633.3,236.0 634.2,239.3 638.3,241.8 641.7,243.5 642.5,237.7 643.3,236.0 647.5,236.0 649.2,241.0 651.7,245.2 654.2,248.5 660.0,252.7 664.2,257.7 667.5,262.7 668.3,269.3 665.8,276.0 662.5,281.0 660.0,286.0 655.0,287.7 648.3,286.8 643.3,286.0 640.0,282.7 637.5,281.0 634.2,278.5 631.7,276.0 626.7,274.3 620.0,274.0 613.3,276.0 607.5,278.5 600.0,279.7 594.2,280.7 590.8,278.5 590.0,273.5 588.3,267.7 586.7,261.0ZM649.2,290.2 653.3,291.8 657.5,290.2 658.3,294.3 655.8,298.0 651.7,297.7 649.2,293.5ZM209.2,240.0 282.5,240.0 282.5,250.0 278.3,255.8 266.7,259.2 263.3,265.0 258.3,272.5 253.3,277.5 246.7,280.8 245.8,285.0 238.3,290.0 231.7,293.3 233.3,297.5 228.3,301.7 229.2,308.0 210.0,308.0 210.8,298.3 213.3,288.3 215.8,278.3 217.5,266.7 220.0,256.7 219.2,247.5 213.3,244.2ZM208.7,300.0 227.5,300.0 230.0,305.0 225.0,309.2 223.3,314.2 227.5,318.3 232.5,319.7 231.7,321.7 224.2,322.5 216.7,320.0 211.7,315.8 209.2,310.0 208.7,305.0ZM237.5,313.3 240.8,313.0 245.8,314.2 245.0,315.8 240.0,315.8ZM284.2,318.0 290.0,318.7 289.2,320.3 285.0,319.7ZM268.3,330.8 271.7,331.3 271.7,332.5 268.3,332.0ZM253.3,332.5 251.7,335.8 245.0,340.0 240.8,343.3 239.2,348.3 241.7,353.3 240.8,358.3 246.7,360.8 260.0,363.3 280.0,365.0 300.0,364.2 300.0,370.8 180.0,370.8 180.0,355.0 188.3,356.7 196.7,355.8 208.3,351.7 213.3,348.3 220.0,347.5 224.2,344.2 230.0,340.0 236.7,336.7 243.3,335.8 249.2,333.3ZM0.0,366.8 40.0,366.8 41.2,364.2 62.5,361.8 82.5,359.2 100.0,356.8 107.5,355.5 117.5,356.0 130.0,357.5 140.0,355.5 150.0,358.0 155.0,355.0 170.0,354.2 180.0,350.5 180.0,370.5 0.0,370.5ZM270.0,366.0 280.0,365.0 295.0,364.2 307.5,361.8 320.0,356.8 335.0,353.0 342.5,350.5 370.0,350.0 395.0,349.2 420.0,348.0 432.5,346.8 450.0,345.0 450.0,370.5 270.0,370.5ZM305.0,323.0 308.0,324.2 309.0,326.8 307.5,329.2 305.5,328.5 307.0,326.5 306.0,324.8ZM283.8,318.0 288.8,318.0 288.8,320.0 283.8,320.0ZM450.0,345.0 460.0,342.5 472.5,342.5 482.5,344.2 500.0,345.5 510.0,348.0 522.5,344.2 525.0,342.5 535.0,341.0 550.0,341.8 555.0,338.0 560.0,341.0 570.0,341.0 580.0,342.5 590.0,341.8 600.0,343.0 612.5,342.5 630.0,340.5 630.0,370.5 450.0,370.5ZM600.0,342.2 610.0,342.7 616.7,343.8 628.3,339.7 633.3,342.7 643.3,343.0 655.0,345.5 666.7,347.2 680.0,349.7 693.3,352.2 703.3,353.8 700.0,357.2 693.3,359.7 688.3,363.0 693.3,365.5 703.3,366.3 720.0,366.3 720.0,370.5 600.0,370.5ZM443.3,236.0 440.0,243.5 433.3,247.7 431.7,252.7 430.8,259.3 426.7,262.7 424.2,268.5 420.0,273.5 415.8,276.8 410.0,279.0 401.7,279.7 397.5,278.5 395.8,274.3 393.3,267.7 390.0,261.0 388.3,254.3 385.0,248.5 383.3,242.7 385.0,236.0ZM450.0,241.0 455.0,238.5 458.3,236.0 461.3,236.0 461.7,241.8 459.2,249.3 456.7,257.7 453.3,261.0 448.3,259.3 447.0,253.5 448.3,246.0ZM470.0,251.8 473.3,251.8 473.3,253.5 470.0,253.5ZM475.0,250.2 476.3,250.2 476.3,251.8 475.0,251.8ZM704.0,277.7 706.5,278.2 709.1,281.0 712.8,284.3 717.4,285.3 718.1,288.6 714.8,292.0 711.5,293.6 709.1,290.6 707.8,285.7 705.3,281.5ZM711.1,293.1 707.8,294.8 702.8,298.1 697.9,301.4 693.7,303.1 695.4,299.7 701.2,295.6 704.5,291.5 708.6,291.5ZM687.9,250.1 695.4,255.0 696.2,256.2 692.9,255.0 688.8,251.7ZM693.7,237.7 695.4,237.7 697.9,245.9 696.2,245.9ZM715.3,244.3 720.1,243.5 720.1,247.3 716.1,247.6ZM2.8,152.3 3.8,152.3 3.8,153.3 2.8,153.3ZM4.8,153.5 5.8,153.5 5.8,154.5 4.8,154.5ZM12.0,157.8 13.0,157.8 13.0,158.8 12.0,158.8ZM24.2,159.8 25.2,159.8 25.2,160.8 24.2,160.8ZM31.2,162.8 32.2,162.8 32.2,163.8 31.2,163.8ZM36.2,164.0 37.2,164.0 37.2,165.0 36.2,165.0ZM40.2,165.5 41.5,165.5 41.5,166.8 40.2,166.8ZM20.8,176.8 21.8,176.8 21.8,177.8 20.8,177.8ZM43.3,167.0 46.7,167.8 50.8,170.3 50.0,172.8 48.0,172.3 46.7,169.5ZM430.0,165.0 481.2,165.0 479.2,168.3 475.8,172.9 471.7,176.2 465.0,179.2 457.5,182.9 451.7,184.6 447.9,186.7 447.9,188.8 453.3,187.9 457.5,186.7 462.9,185.8 463.8,188.8 462.1,192.5 460.0,195.8 458.8,199.0 430.0,199.0ZM380.0,150.0 473.3,150.0 473.7,158.3 479.7,162.0 480.8,165.8 476.7,171.7 470.8,176.7 463.3,180.0 453.3,184.2 448.0,186.3 446.7,200.0 380.0,200.0ZM473.7,150.0 500.0,150.0 500.0,167.5 495.0,160.8 489.2,160.0 483.3,161.3 476.7,159.2 474.2,158.3ZM55.0,96.2 50.0,96.9 43.8,99.4 37.5,100.6 31.2,102.2 25.0,104.0 18.8,105.6 12.5,106.5 6.2,107.5 2.5,107.8 0.0,107.0 0.0,106.0 6.2,106.0 12.5,105.2 18.8,104.0 25.0,101.9 31.2,99.4 37.5,96.9 43.8,94.4 55.0,91.2ZM379.4,50.9 386.2,49.6 397.5,49.0 412.5,49.2 417.5,50.2 415.0,53.4 411.2,54.6 406.2,54.0 400.0,55.9 392.5,57.1 386.2,55.2 381.2,53.4ZM421.2,49.6 428.8,49.6 428.8,50.5 421.2,50.5ZM395.6,60.9 400.6,60.9 400.6,61.8 395.6,61.8ZM610.8,130.2 619.0,130.2 621.5,137.0 620.0,143.5 615.0,143.5 612.5,137.0ZM640.5,117.0 646.2,117.0 645.5,127.5 643.0,135.0 635.5,139.0 627.5,142.5 622.0,145.5 620.5,149.0 617.0,149.5 618.0,144.0 622.5,140.0 630.0,136.5 638.2,132.0 640.0,122.5ZM643.0,112.0 651.2,112.0 650.0,117.5 644.5,118.5ZM551.2,200.6 565.0,200.0 569.4,205.0 571.2,210.0 572.8,215.0 573.8,218.8 573.5,223.1 573.1,224.4 568.8,221.9 563.8,217.5 558.8,211.2 553.8,205.0ZM570.0,221.2 577.5,222.5 585.0,223.5 592.5,224.4 600.0,225.6 605.0,226.9 607.5,228.1 605.0,229.4 600.0,228.8 592.5,227.5 585.0,226.5 577.5,225.6 571.9,224.8 569.4,223.1ZM608.1,226.9 615.0,227.2 621.2,228.1 625.0,227.5 626.2,229.0 620.0,230.0 613.8,229.8 608.8,229.4ZM578.1,208.1 582.5,205.0 587.5,201.9 590.0,200.0 598.1,200.0 596.9,205.0 596.2,210.0 595.0,214.4 591.2,217.5 586.2,218.1 581.2,216.2 578.8,212.5ZM598.1,206.9 601.9,206.9 602.5,218.8 599.4,218.8ZM601.2,210.6 611.2,210.6 611.5,212.5 601.2,212.8ZM601.9,215.6 604.4,215.0 609.4,221.9 606.9,222.8ZM615.0,205.6 618.1,205.6 618.1,211.2 615.0,211.2ZM620.0,211.9 627.5,211.5 630.0,212.5 630.0,216.9 622.5,217.2 620.0,215.0ZM551.9,203.8 552.8,203.5 565.0,221.0 564.2,221.5ZM553.0,197.5 560.8,190.0 565.0,196.0 568.8,200.4 571.2,208.8 573.0,215.5 570.0,213.0 565.0,206.0 560.0,201.0 556.0,198.5ZM620.0,211.2 625.0,210.6 630.0,211.2 637.5,213.8 643.8,215.6 650.0,218.1 655.0,220.0 658.8,220.6 663.8,218.8 666.2,216.9 666.9,218.8 663.1,221.9 658.8,223.1 656.2,224.4 658.8,226.9 662.5,228.8 665.0,230.6 661.2,230.6 655.0,228.1 650.0,226.9 646.2,228.1 641.2,227.5 637.5,224.4 636.2,220.0 631.2,218.1 626.9,216.5 622.5,215.0ZM669.4,220.6 675.0,225.0 681.2,229.4 685.6,232.5 684.4,233.1 677.5,228.1 670.0,222.5ZM655.0,213.8 662.5,213.5 662.5,214.8 655.0,215.0ZM624.4,220.6 631.2,221.0 631.2,224.8 625.0,225.0ZM616.2,223.1 625.0,223.5 625.0,225.6 616.2,225.2ZM600.0,227.8 612.5,228.5 612.5,231.0 600.0,230.2ZM600.0,207.5 610.0,207.9 610.0,209.4 600.0,209.0ZM602.5,211.2 608.8,211.2 608.8,213.8 602.5,213.8ZM600.0,218.8 606.2,219.0 606.2,221.9 600.0,221.5ZM39.5,201.1 40.5,201.1 40.5,202.2 39.5,202.2ZM46.1,219.5 47.2,219.5 47.2,220.5 46.1,220.5ZM49.5,242.8 50.5,242.8 50.5,243.9 49.5,243.9ZM54.5,242.1 55.5,242.1 55.5,243.2 54.5,243.2ZM59.5,244.5 60.5,244.5 60.5,245.5 59.5,245.5ZM64.5,239.5 65.5,239.5 65.5,240.5 64.5,240.5ZM67.8,241.1 68.9,241.1 68.9,242.2 67.8,242.2ZM70.1,242.8 71.2,242.8 71.2,243.9 70.1,243.9ZM74.5,244.5 75.5,244.5 75.5,245.5 74.5,245.5ZM79.5,246.1 80.5,246.1 80.5,247.2 79.5,247.2ZM82.8,251.1 83.9,251.1 83.9,252.2 82.8,252.2ZM86.8,252.8 87.9,252.8 87.9,253.9 86.8,253.9ZM89.5,247.8 90.5,247.8 90.5,248.9 89.5,248.9ZM81.1,227.8 82.2,227.8 82.2,228.9 81.1,228.9ZM82.8,229.5 83.9,229.5 83.9,230.5 82.8,230.5ZM44.5,251.1 45.5,251.1 45.5,252.2 44.5,252.2ZM52.8,256.1 53.9,256.1 53.9,257.2 52.8,257.2ZM99.5,258.8 100.5,258.8 100.5,259.9 99.5,259.9ZM109.5,258.8 110.5,258.8 110.5,259.9 109.5,259.9ZM141.1,263.5 142.2,263.5 142.2,264.5 141.1,264.5ZM6.1,297.8 7.2,297.8 7.2,298.9 6.1,298.9ZM71.1,264.5 72.2,264.5 72.2,265.5 71.1,265.5ZM201.1,261.1 202.2,261.1 202.2,262.2 201.1,262.2ZM200.1,276.8 201.2,276.8 201.2,277.9 200.1,277.9ZM11.1,239.5 12.2,239.5 12.2,240.5 11.1,240.5ZM14.5,242.8 15.5,242.8 15.5,243.9 14.5,243.9ZM16.1,251.1 17.2,251.1 17.2,252.2 16.1,252.2ZM2.8,267.8 3.9,267.8 3.9,268.9 2.8,268.9ZM17.8,216.1 18.9,216.1 18.9,217.2 17.8,217.2ZM6.8,207.8 7.9,207.8 7.9,208.9 6.8,208.9ZM193.7,150.0 200.0,150.0 200.8,156.7 199.7,160.3 197.5,160.0 195.3,155.0ZM190.8,164.7 200.0,163.7 207.5,165.8 216.7,170.0 224.2,173.0 223.3,175.0 216.7,174.3 206.7,170.3 198.3,168.0 191.7,167.2ZM211.3,171.3 220.0,170.0 224.7,172.5 224.2,175.3 216.7,175.3 212.0,174.2ZM202.5,156.7 205.0,156.3 210.0,160.3 216.7,165.3 218.3,167.5 215.8,167.0 208.3,162.5 203.3,159.7ZM180.0,167.5 187.5,166.3 188.7,170.0 187.0,175.0 188.0,177.5 195.0,178.7 195.3,185.8 198.3,190.0 193.3,189.2 190.0,185.8 185.8,181.7 184.2,176.7 181.7,173.3ZM203.7,173.3 208.7,173.3 208.7,175.0 203.7,175.0ZM234.2,174.2 235.8,173.8 239.2,177.5 241.7,185.3 240.0,185.8 237.8,178.3ZM497.5,307.5 501.5,307.5 501.5,309.6 497.5,309.6ZM506.5,315.2 508.6,315.2 508.6,316.4 506.5,316.4ZM366.0,318.4 367.6,318.4 367.6,319.8 366.0,319.8Z" fill="#000"/>
<path d="M135.0,56.0 141.7,55.7 141.7,57.3 135.0,57.3ZM146.3,53.7 148.3,53.7 148.7,56.7 146.7,56.7ZM153.3,55.7 166.7,55.3 166.7,56.8 153.3,57.0ZM111.7,59.7 123.3,60.0 123.3,60.8 111.7,60.7ZM125.0,60.7 143.3,61.3 163.3,60.7 163.3,62.0 143.3,62.8 125.0,62.0ZM108.0,67.0 116.7,68.3 125.0,70.3 124.2,71.7 115.0,70.3 108.0,69.3ZM153.3,62.3 166.7,62.0 166.7,63.3 155.8,64.0 154.2,66.5 160.0,69.0 166.7,69.3 166.7,70.7 158.3,70.7 152.0,67.3ZM176.7,64.8 180.0,64.0 180.0,70.7 177.5,69.8ZM172.5,89.0 180.0,85.3 180.0,95.7 175.0,94.0ZM134.7,74.0 136.0,74.0 136.0,75.2 134.7,75.2ZM118.7,77.8 120.0,77.8 120.0,79.0 118.7,79.0ZM130.8,86.8 132.2,86.8 132.2,88.0 130.8,88.0ZM163.0,102.7 165.0,104.3 164.3,105.0 162.5,103.5ZM180.0,84.0 188.3,83.2 195.0,81.5 196.7,77.3 200.0,72.7 205.0,74.8 213.3,75.3 207.5,78.2 203.3,81.5 201.7,87.3 203.3,92.3 206.7,97.3 201.7,100.3 196.7,99.0 188.3,96.5 180.0,95.7ZM208.3,82.7 223.3,87.7 230.0,88.7 228.3,92.3 223.7,92.0 222.5,89.3 208.3,84.0ZM180.0,69.0 188.3,70.7 188.3,72.0 180.0,70.3ZM181.7,58.2 190.0,58.2 190.0,59.0 181.7,59.0ZM214.2,51.7 227.5,50.7 227.5,52.0 214.2,52.7ZM247.5,69.0 250.8,69.0 250.8,69.8 247.5,69.8ZM254.2,72.0 256.7,72.0 256.7,72.7 254.2,72.7ZM226.7,110.7 235.0,109.8 246.7,107.7 246.7,109.0 235.0,111.2 226.7,112.0ZM199.7,100.7 201.3,100.7 201.3,105.7 199.7,105.7ZM395.8,84.8 401.7,84.0 402.0,89.8 396.7,89.8ZM400.0,91.5 404.2,92.3 401.7,99.0 395.8,99.8 397.5,94.8ZM404.2,79.8 408.3,79.0 408.7,82.0 404.7,82.7ZM406.7,92.3 416.7,89.0 416.7,90.7 408.3,94.0ZM431.7,78.2 439.2,78.7 439.2,80.0 431.7,79.3ZM422.5,88.2 424.2,88.2 424.2,89.3 422.5,89.3ZM507.5,73.7 508.7,73.7 508.7,75.0 507.5,75.0ZM540.0,52.0 550.0,51.0 558.3,53.2 563.3,55.3 555.0,57.0 546.7,56.5 540.0,58.2ZM131.7,148.3 133.3,149.0 142.0,162.0 140.7,162.7ZM180.0,172.0 170.8,172.3 166.7,167.8 165.8,160.3 168.3,154.5 173.3,151.7 180.0,152.0ZM232.5,112.8 240.0,112.8 239.2,116.2 233.3,116.2ZM180.0,114.5 189.2,114.5 189.2,115.3 180.0,115.3ZM185.8,117.0 187.5,117.0 187.5,126.2 186.0,126.2ZM194.2,118.7 200.0,119.0 200.0,121.2 194.7,120.7ZM196.7,125.3 198.3,125.3 198.3,126.7 196.7,126.7ZM360.0,100.0 375.8,100.0 373.3,103.3 367.5,107.0 363.3,106.7 360.0,110.0ZM386.7,100.0 400.0,100.0 400.0,100.8 386.7,101.0ZM360.0,138.0 360.0,131.7 362.5,128.7 367.5,124.7 376.7,122.7 380.0,123.3 385.0,126.7 391.7,130.8 395.8,130.8 400.0,132.5 403.3,138.3 408.3,140.0 416.7,138.7 423.3,138.3 430.8,139.2 430.0,145.0 426.7,147.5 416.7,147.5 408.3,145.0 401.7,145.8 398.3,148.7 391.7,145.8 385.0,143.3 382.5,141.7 382.5,138.3 376.7,135.8 366.7,137.0ZM385.8,120.0 388.3,120.8 399.2,127.5 398.7,129.2 393.3,126.7 386.7,122.5ZM409.2,130.8 411.7,130.8 411.7,134.2 409.2,134.2ZM407.5,135.8 413.3,135.8 413.3,139.2 407.5,139.2ZM417.5,125.0 421.7,118.3 424.2,118.0 426.7,121.7 433.3,120.8 440.0,122.5 443.0,125.8 440.0,127.5 433.3,126.3 426.7,126.7 421.7,128.0 417.5,127.0ZM430.8,118.0 435.8,118.0 435.8,118.7 430.8,118.7ZM455.8,120.8 460.0,117.5 465.8,116.7 465.0,119.2 461.7,120.8 462.5,125.0 466.7,128.3 467.5,134.2 464.2,136.7 460.0,135.0 459.7,129.2 457.5,125.0ZM478.0,120.8 480.0,120.8 480.0,122.5 478.0,122.5ZM429.2,155.8 430.8,155.0 435.0,161.7 438.0,168.0 435.0,168.0 431.7,161.7ZM458.3,151.7 460.0,150.8 465.0,156.7 470.8,158.3 468.3,160.8 464.2,161.7 460.8,156.7ZM474.2,159.2 480.0,160.8 480.0,164.2 475.0,161.7ZM480.0,119.5 482.5,119.0 482.5,122.0 480.0,122.3ZM596.3,132.8 600.0,132.8 600.0,134.5 596.3,134.5ZM552.5,177.8 555.0,177.8 555.0,180.0 552.5,180.0ZM596.3,133.3 603.3,129.0 604.3,130.0 597.5,134.3ZM425.0,211.7 427.5,210.5 428.7,213.3 426.3,215.3ZM429.2,233.3 430.2,233.3 430.2,234.7 429.2,234.7ZM443.3,180.0 446.7,180.0 446.7,183.3 444.2,182.5ZM448.0,185.8 450.0,185.8 450.0,189.2 448.0,189.2ZM425.0,211.3 427.5,210.5 428.0,213.3 425.7,215.0ZM428.7,233.7 429.7,233.7 429.7,235.0 428.7,235.0ZM605.6,186.6 606.9,186.6 606.9,187.9 605.6,187.9ZM608.5,191.0 610.0,191.0 610.0,192.9 608.5,192.9ZM605.0,185.0 607.5,185.0 607.5,188.3 605.0,188.3ZM434.2,165.0 437.9,165.0 438.3,168.3 442.5,172.5 445.4,178.3 446.0,182.9 445.0,182.5 442.5,180.0 439.2,175.8 435.8,171.2 434.6,168.3ZM458.3,151.3 460.8,150.8 465.0,155.8 471.7,158.0 473.7,158.3 479.7,162.0 475.0,160.8 470.8,160.3 465.8,161.7 462.5,157.5ZM429.2,155.0 431.7,155.8 437.5,165.0 442.5,173.3 445.8,180.8 444.2,182.5 440.0,176.7 435.8,169.2 431.7,161.7Z" fill="#fff"/>
<path d="M376.7,125.0 380.3,125.0 380.7,132.5 376.7,132.5ZM361.7,129.7 366.7,129.2 366.7,130.8 361.7,131.7ZM383.3,135.8 390.0,135.3 390.0,138.0 384.2,138.7ZM464.2,185.7 466.7,185.0 470.0,184.8 469.8,185.7 467.1,186.5 464.3,186.8ZM339.0,101.5 345.0,99.5 346.0,95.0 351.0,93.0 355.0,92.5 356.5,95.0 357.5,98.0 360.5,101.0 364.0,104.5 365.0,106.5 363.5,108.0 358.0,109.5 352.0,110.5 348.0,110.5 350.0,108.5 347.0,107.5 339.5,107.0 339.0,104.5ZM361.2,107.5 361.2,122.8 357.0,122.8 356.5,115.8 350.5,115.0 350.0,113.2 355.0,112.0 364.0,109.5 365.0,107.5ZM376.0,101.5 376.0,96.0 379.0,94.7 381.8,94.2 383.0,96.0 382.8,98.0 385.0,100.2 391.0,101.2 395.0,99.5 399.0,100.8 399.0,102.8 376.0,102.8ZM368.5,104.0 376.0,101.3 376.0,105.0 368.0,105.0ZM199.5,81.5 202.5,81.5 202.5,85.2 199.5,85.2ZM201.2,87.8 203.0,87.8 203.0,92.8 201.2,92.8ZM197.5,94.0 200.0,94.0 200.0,97.8 197.5,97.8ZM203.8,76.0 206.2,76.0 206.2,78.5 203.8,78.5ZM195.0,85.2 197.0,85.2 197.0,87.0 195.0,87.0ZM202.0,95.2 204.0,95.2 204.0,99.5 202.0,99.5ZM198.0,76.5 200.0,76.5 200.0,79.0 198.0,79.0Z" fill="#000"/>
</g>
</g>
<g class="t"><path d="M73.70,17.77L73.70,27.50M73.70,17.77L80.19,27.50M80.19,17.77L80.19,27.50M86.21,17.77L85.28,18.23L84.36,19.16L83.89,20.09L83.43,21.48L83.43,23.79L83.89,25.18L84.36,26.11L85.28,27.04L86.21,27.50L88.07,27.50L88.99,27.04L89.92,26.11L90.38,25.18L90.85,23.79L90.85,21.48L90.38,20.09L89.92,19.16L88.99,18.23L88.07,17.77L86.21,17.77M96.41,17.77L92.70,27.50M96.41,17.77L100.11,27.50M94.09,24.26L98.72,24.26M104.75,17.77L101.04,27.50M104.75,17.77L108.45,27.50M102.43,24.26L107.06,24.26M124.67,20.09L124.21,19.16L123.28,18.23L122.36,17.77L120.50,17.77L119.58,18.23L118.65,19.16L118.19,20.09L117.72,21.48L117.72,23.79L118.19,25.18L118.65,26.11L119.58,27.04L120.50,27.50L122.36,27.50L123.28,27.04L124.21,26.11L124.67,25.18M129.77,21.01L128.84,21.48L127.92,22.40L127.45,23.79L127.45,24.72L127.92,26.11L128.84,27.04L129.77,27.50L131.16,27.50L132.09,27.04L133.02,26.11L133.48,24.72L133.48,23.79L133.02,22.40L132.09,21.48L131.16,21.01L129.77,21.01M136.72,21.01L136.72,27.50M136.72,23.79L137.19,22.40L138.11,21.48L139.04,21.01L140.43,21.01M147.84,21.01L147.84,27.50M147.84,22.40L146.92,21.48L145.99,21.01L144.60,21.01L143.67,21.48L142.75,22.40L142.28,23.79L142.28,24.72L142.75,26.11L143.67,27.04L144.60,27.50L145.99,27.50L146.92,27.04L147.84,26.11M151.55,17.77L151.55,27.50M162.67,17.77L162.67,27.50M162.67,17.77L166.84,17.77L168.23,18.23L168.70,18.70L169.16,19.62L169.16,20.55L168.70,21.48L168.23,21.94L166.84,22.40L162.67,22.40M165.92,22.40L169.16,27.50M171.94,23.79L177.50,23.79L177.50,22.87L177.04,21.94L176.57,21.48L175.65,21.01L174.26,21.01L173.33,21.48L172.40,22.40L171.94,23.79L171.94,24.72L172.40,26.11L173.33,27.04L174.26,27.50L175.65,27.50L176.57,27.04L177.50,26.11M180.28,23.79L185.84,23.79L185.84,22.87L185.38,21.94L184.92,21.48L183.99,21.01L182.60,21.01L181.67,21.48L180.75,22.40L180.28,23.79L180.28,24.72L180.75,26.11L181.67,27.04L182.60,27.50L183.99,27.50L184.92,27.04L185.84,26.11M191.87,17.77L190.94,17.77L190.01,18.23L189.55,19.62L189.55,27.50M188.16,21.01L191.40,21.01M201.13,17.77L203.45,27.50M205.77,17.77L203.45,27.50M205.77,17.77L208.09,27.50M210.40,17.77L208.09,27.50M218.28,21.01L218.28,27.50M218.28,22.40L217.35,21.48L216.43,21.01L215.04,21.01L214.11,21.48L213.18,22.40L212.72,23.79L212.72,24.72L213.18,26.11L214.11,27.04L215.04,27.50L216.43,27.50L217.35,27.04L218.28,26.11M222.45,17.77L222.45,25.65L222.91,27.04L223.84,27.50L224.77,27.50M221.06,21.01L224.30,21.01M232.65,22.40L231.72,21.48L230.79,21.01L229.40,21.01L228.48,21.48L227.55,22.40L227.09,23.79L227.09,24.72L227.55,26.11L228.48,27.04L229.40,27.50L230.79,27.50L231.72,27.04L232.65,26.11M235.89,17.77L235.89,27.50M235.89,22.87L237.28,21.48L238.21,21.01L239.60,21.01L240.52,21.48L240.99,22.87L240.99,27.50M258.13,19.16L257.21,18.23L255.82,17.77L253.96,17.77L252.57,18.23L251.65,19.16L251.65,20.09L252.11,21.01L252.57,21.48L253.50,21.94L256.28,22.87L257.21,23.33L257.67,23.79L258.13,24.72L258.13,26.11L257.21,27.04L255.82,27.50L253.96,27.50L252.57,27.04L251.65,26.11M266.47,21.01L266.47,27.50M266.47,22.40L265.55,21.48L264.62,21.01L263.23,21.01L262.30,21.48L261.38,22.40L260.91,23.79L260.91,24.72L261.38,26.11L262.30,27.04L263.23,27.50L264.62,27.50L265.55,27.04L266.47,26.11M270.64,17.77L270.64,25.65L271.11,27.04L272.04,27.50L272.96,27.50M269.25,21.01L272.50,21.01M275.28,23.79L280.84,23.79L280.84,22.87L280.38,21.94L279.91,21.48L278.99,21.01L277.60,21.01L276.67,21.48L275.74,22.40L275.28,23.79L275.28,24.72L275.74,26.11L276.67,27.04L277.60,27.50L278.99,27.50L279.91,27.04L280.84,26.11M284.08,17.77L284.08,27.50M287.79,17.77L287.79,27.50M291.03,17.77L291.50,18.23L291.96,17.77L291.50,17.31L291.03,17.77M291.50,21.01L291.50,27.50M295.67,17.77L295.67,25.65L296.13,27.04L297.06,27.50L297.99,27.50M294.28,21.01L297.52,21.01M300.30,23.79L305.86,23.79L305.86,22.87L305.40,21.94L304.94,21.48L304.01,21.01L302.62,21.01L301.69,21.48L300.77,22.40L300.30,23.79L300.30,24.72L300.77,26.11L301.69,27.04L302.62,27.50L304.01,27.50L304.94,27.04L305.86,26.11M323.01,20.09L322.55,19.16L321.62,18.23L320.69,17.77L318.84,17.77L317.91,18.23L316.98,19.16L316.52,20.09L316.06,21.48L316.06,23.79L316.52,25.18L316.98,26.11L317.91,27.04L318.84,27.50L320.69,27.50L321.62,27.04L322.55,26.11L323.01,25.18M328.11,21.01L327.18,21.48L326.25,22.40L325.79,23.79L325.79,24.72L326.25,26.11L327.18,27.04L328.11,27.50L329.50,27.50L330.42,27.04L331.35,26.11L331.81,24.72L331.81,23.79L331.35,22.40L330.42,21.48L329.50,21.01L328.11,21.01M335.06,21.01L335.06,27.50M335.06,23.79L335.52,22.40L336.45,21.48L337.37,21.01L338.76,21.01M346.18,21.01L346.18,27.50M346.18,22.40L345.25,21.48L344.33,21.01L342.94,21.01L342.01,21.48L341.08,22.40L340.62,23.79L340.62,24.72L341.08,26.11L342.01,27.04L342.94,27.50L344.33,27.50L345.25,27.04L346.18,26.11M349.89,17.77L349.89,27.50M361.01,17.77L361.01,27.50M361.01,17.77L365.18,17.77L366.57,18.23L367.03,18.70L367.50,19.62L367.50,20.55L367.03,21.48L366.57,21.94L365.18,22.40M361.01,22.40L365.18,22.40L366.57,22.87L367.03,23.33L367.50,24.26L367.50,25.65L367.03,26.57L366.57,27.04L365.18,27.50L361.01,27.50M370.74,17.77L370.74,27.50M373.98,23.79L379.54,23.79L379.54,22.87L379.08,21.94L378.62,21.48L377.69,21.01L376.30,21.01L375.37,21.48L374.45,22.40L373.98,23.79L373.98,24.72L374.45,26.11L375.37,27.04L376.30,27.50L377.69,27.50L378.62,27.04L379.54,26.11M387.89,21.01L387.89,27.50M387.89,22.40L386.96,21.48L386.03,21.01L384.64,21.01L383.71,21.48L382.79,22.40L382.32,23.79L382.32,24.72L382.79,26.11L383.71,27.04L384.64,27.50L386.03,27.50L386.96,27.04L387.89,26.11M396.69,22.40L395.76,21.48L394.84,21.01L393.45,21.01L392.52,21.48L391.59,22.40L391.13,23.79L391.13,24.72L391.59,26.11L392.52,27.04L393.45,27.50L394.84,27.50L395.76,27.04L396.69,26.11M399.93,17.77L399.93,27.50M399.93,22.87L401.32,21.48L402.25,21.01L403.64,21.01L404.57,21.48L405.03,22.87L405.03,27.50M408.27,17.77L408.74,18.23L409.20,17.77L408.74,17.31L408.27,17.77M408.74,21.01L408.74,27.50M412.45,21.01L412.45,27.50M412.45,22.87L413.84,21.48L414.76,21.01L416.15,21.01L417.08,21.48L417.54,22.87L417.54,27.50M426.35,21.01L426.35,28.43L425.88,29.82L425.42,30.28L424.49,30.74L423.10,30.74L422.18,30.28M426.35,22.40L425.42,21.48L424.49,21.01L423.10,21.01L422.18,21.48L421.25,22.40L420.79,23.79L420.79,24.72L421.25,26.11L422.18,27.04L423.10,27.50L424.49,27.50L425.42,27.04L426.35,26.11M437.47,17.77L437.47,27.50M443.96,17.77L443.96,27.50M437.47,22.40L443.96,22.40M449.52,21.01L448.59,21.48L447.66,22.40L447.20,23.79L447.20,24.72L447.66,26.11L448.59,27.04L449.52,27.50L450.91,27.50L451.83,27.04L452.76,26.11L453.22,24.72L453.22,23.79L452.76,22.40L451.83,21.48L450.91,21.01L449.52,21.01M456.93,17.77L456.93,25.65L457.40,27.04L458.32,27.50L459.25,27.50M455.54,21.01L458.79,21.01M468.05,19.16L467.13,18.23L465.74,17.77L463.88,17.77L462.49,18.23L461.57,19.16L461.57,20.09L462.03,21.01L462.49,21.48L463.42,21.94L466.20,22.87L467.13,23.33L467.59,23.79L468.05,24.72L468.05,26.11L467.13,27.04L465.74,27.50L463.88,27.50L462.49,27.04L461.57,26.11M471.30,21.01L471.30,30.74M471.30,22.40L472.22,21.48L473.15,21.01L474.54,21.01L475.47,21.48L476.39,22.40L476.86,23.79L476.86,24.72L476.39,26.11L475.47,27.04L474.54,27.50L473.15,27.50L472.22,27.04L471.30,26.11M481.96,21.01L481.03,21.48L480.10,22.40L479.64,23.79L479.64,24.72L480.10,26.11L481.03,27.04L481.96,27.50L483.35,27.50L484.27,27.04L485.20,26.11L485.66,24.72L485.66,23.79L485.20,22.40L484.27,21.48L483.35,21.01L481.96,21.01M489.37,17.77L489.37,25.65L489.83,27.04L490.76,27.50L491.69,27.50M487.98,21.01L491.22,21.01M499.10,22.40L498.64,21.48L497.25,21.01L495.86,21.01L494.47,21.48L494.00,22.40L494.47,23.33L495.39,23.79L497.71,24.26L498.64,24.72L499.10,25.65L499.10,26.11L498.64,27.04L497.25,27.50L495.86,27.50L494.47,27.04L494.00,26.11M534.32,17.77L532.93,18.23L532.00,19.62L531.54,21.94L531.54,23.33L532.00,25.65L532.93,27.04L534.32,27.50L535.25,27.50L536.64,27.04L537.56,25.65L538.03,23.33L538.03,21.94L537.56,19.62L536.64,18.23L535.25,17.77L534.32,17.77M546.83,21.01L546.37,22.40L545.44,23.33L544.05,23.79L543.59,23.79L542.20,23.33L541.27,22.40L540.81,21.01L540.81,20.55L541.27,19.16L542.20,18.23L543.59,17.77L544.05,17.77L545.44,18.23L546.37,19.16L546.83,21.01L546.83,23.33L546.37,25.65L545.44,27.04L544.05,27.50L543.12,27.50L541.73,27.04L541.27,26.11M557.95,17.77L557.95,27.50M557.95,17.77L563.98,17.77M557.95,22.40L561.66,22.40M565.83,23.79L571.39,23.79L571.39,22.87L570.93,21.94L570.46,21.48L569.54,21.01L568.15,21.01L567.22,21.48L566.29,22.40L565.83,23.79L565.83,24.72L566.29,26.11L567.22,27.04L568.15,27.50L569.54,27.50L570.46,27.04L571.39,26.11M574.64,17.77L574.64,27.50M574.64,22.40L575.56,21.48L576.49,21.01L577.88,21.01L578.81,21.48L579.73,22.40L580.20,23.79L580.20,24.72L579.73,26.11L578.81,27.04L577.88,27.50L576.49,27.50L575.56,27.04L574.64,26.11M590.85,20.09L590.85,19.62L591.32,18.70L591.78,18.23L592.71,17.77L594.56,17.77L595.49,18.23L595.95,18.70L596.42,19.62L596.42,20.55L595.95,21.48L595.02,22.87L590.39,27.50L596.88,27.50M602.44,17.77L601.05,18.23L600.12,19.62L599.66,21.94L599.66,23.33L600.12,25.65L601.05,27.04L602.44,27.50L603.37,27.50L604.76,27.04L605.68,25.65L606.15,23.33L606.15,21.94L605.68,19.62L604.76,18.23L603.37,17.77L602.44,17.77M610.32,19.62L611.24,19.16L612.63,17.77L612.63,27.50M623.76,17.77L619.12,17.77L618.66,21.94L619.12,21.48L620.51,21.01L621.90,21.01L623.29,21.48L624.22,22.40L624.68,23.79L624.68,24.72L624.22,26.11L623.29,27.04L621.90,27.50L620.51,27.50L619.12,27.04L618.66,26.57L618.19,25.65" fill="none" stroke="#000" stroke-width="1" stroke-linejoin="round" stroke-linecap="square" shape-rendering="crispEdges"/></g>
<g shape-rendering="crispEdges"><rect x="27.50" y="391.5" width="33.23" height="16" fill="#FFFFFF" stroke="#000" stroke-width="1"/><rect x="60.73" y="391.5" width="33.23" height="16" fill="#FFE1F0" stroke="#000" stroke-width="1"/><rect x="93.95" y="391.5" width="33.23" height="16" fill="#EFC8FA" stroke="#000" stroke-width="1"/><rect x="127.18" y="391.5" width="33.23" height="16" fill="#B4AAF8" stroke="#000" stroke-width="1"/><rect x="160.40" y="391.5" width="33.23" height="16" fill="#FFD822" stroke="#000" stroke-width="1"/><rect x="193.62" y="391.5" width="33.23" height="16" fill="#FFCC22" stroke="#000" stroke-width="1"/><rect x="226.85" y="391.5" width="33.23" height="16" fill="#FFC020" stroke="#000" stroke-width="1"/><rect x="260.08" y="391.5" width="33.23" height="16" fill="#FFB520" stroke="#000" stroke-width="1"/><rect x="293.30" y="391.5" width="33.23" height="16" fill="#FFAA1E" stroke="#000" stroke-width="1"/><rect x="326.53" y="391.5" width="33.23" height="16" fill="#FFA01C" stroke="#000" stroke-width="1"/><rect x="359.75" y="391.5" width="33.23" height="16" fill="#FF961A" stroke="#000" stroke-width="1"/><rect x="392.98" y="391.5" width="33.23" height="16" fill="#FF8C18" stroke="#000" stroke-width="1"/><rect x="426.20" y="391.5" width="33.23" height="16" fill="#FF8216" stroke="#000" stroke-width="1"/><rect x="459.43" y="391.5" width="33.23" height="16" fill="#FF7614" stroke="#000" stroke-width="1"/><rect x="492.65" y="391.5" width="33.23" height="16" fill="#FF6A12" stroke="#000" stroke-width="1"/><rect x="525.88" y="391.5" width="33.23" height="16" fill="#FF5E10" stroke="#000" stroke-width="1"/><rect x="559.10" y="391.5" width="33.23" height="16" fill="#FF520E" stroke="#000" stroke-width="1"/><rect x="592.33" y="391.5" width="33.23" height="16" fill="#FF440C" stroke="#000" stroke-width="1"/><rect x="625.55" y="391.5" width="33.23" height="16" fill="#FF380A" stroke="#000" stroke-width="1"/><rect x="658.77" y="391.5" width="33.23" height="16" fill="#FF2A08" stroke="#000" stroke-width="1"/></g>
<g class="l"><text x="27.5" y="388.2" text-anchor="middle">0.0</text><text x="94.0" y="388.2" text-anchor="middle">0.5</text><text x="160.4" y="388.2" text-anchor="middle">1.0</text><text x="226.9" y="388.2" text-anchor="middle">1.5</text><text x="293.3" y="388.2" text-anchor="middle">2.0</text><text x="359.8" y="388.2" text-anchor="middle">2.5</text><text x="426.2" y="388.2" text-anchor="middle">3.0</text><text x="492.7" y="388.2" text-anchor="middle">3.5</text><text x="559.1" y="388.2" text-anchor="middle">4.0</text><text x="625.6" y="388.2" text-anchor="middle">4.5</text><text x="692.0" y="388.2" text-anchor="middle">5.0</text><circle cx="705.6" cy="378.6" r="2.1" fill="none" stroke="#000" stroke-width="1.2"/><text x="707.8" y="388.2">C</text></g>
</svg>
</body></html>
